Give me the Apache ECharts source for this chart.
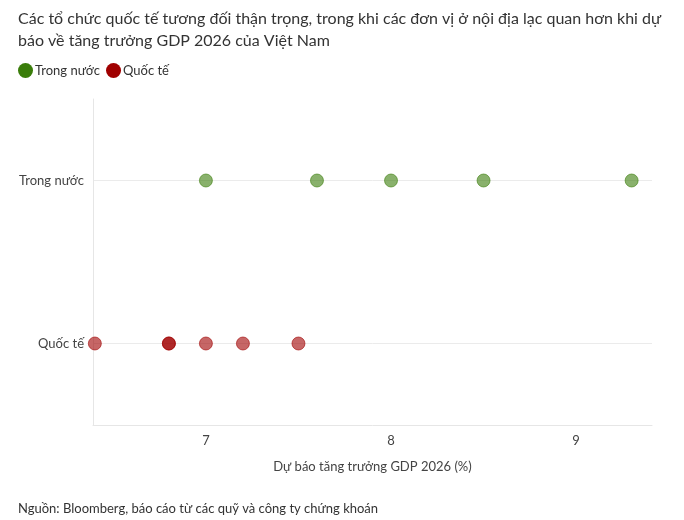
<!DOCTYPE html>
<html>
<head>
<meta charset="utf-8">
<script src="https://cdn.jsdelivr.net/npm/echarts@6/dist/echarts.min.js"></script>
<style>
  html, body { margin: 0; padding: 0; background: #fff; }
  #chart { width: 684px; height: 520px; }
</style>
</head>
<body>
<div id="chart"></div>
<script>
// categories (bottom to top) and forecasts, % GDP growth 2026
var categories = ['Quốc tế', 'Trong nước'];
var trongNuoc = [7.0, 7.6, 8.0, 8.5, 9.3];
var quocTe = [6.4, 6.8, 6.8, 7.0, 7.2, 7.5];
var xTicks = [7, 8, 9];

var FONT = "Lato, 'Liberation Sans', sans-serif";
var GREEN = '#3a7d0a';
var RED = '#a00000';

function toPoints(vals, cat) {
  return vals.map(function (v) { return [v, cat]; });
}

var chart = echarts.init(document.getElementById('chart'));
var option = {
  backgroundColor: '#fff',
  textStyle: { fontFamily: FONT },
  title: {
    text: 'Các tổ chức quốc tế tương đối thận trọng, trong khi các đơn vị ở nội địa lạc quan hơn khi dự\nbáo về tăng trưởng GDP 2026 của Việt Nam',
    left: 13,
    top: 3,
    textStyle: { fontFamily: FONT, fontSize: 16, fontWeight: 'normal', color: '#333', lineHeight: 22 }
  },
  legend: {
    left: 13,
    top: 58,
    icon: 'circle',
    itemWidth: 15,
    itemHeight: 15,
    itemGap: 6,
    textStyle: { fontFamily: FONT, fontSize: 13, color: '#333', padding: [0, 0, 0, -3] },
    data: [
      { name: 'Trong nước', itemStyle: { color: GREEN, opacity: 1, borderWidth: 0 } },
      { name: 'Quốc tế', itemStyle: { color: RED, opacity: 1, borderWidth: 0 } }
    ]
  },
  grid: { left: 93, right: 32, top: 99, bottom: 95 },
  xAxis: {
    type: 'value',
    min: 6.39,
    max: 9.41,
    name: 'Dự báo tăng trưởng GDP 2026 (%)',
    nameLocation: 'middle',
    nameGap: 35,
    nameTextStyle: { fontFamily: FONT, fontSize: 13, color: '#444' },
    axisLine: { show: true, lineStyle: { color: '#e6e6e6' } },
    axisTick: { show: false },
    splitLine: { show: false },
    axisLabel: {
      margin: 9,
      fontSize: 13,
      color: '#444',
      showMinLabel: false,
      showMaxLabel: false,
      formatter: function (v) { return xTicks.indexOf(v) >= 0 ? String(v) : ''; }
    }
  },
  yAxis: {
    type: 'category',
    data: categories,
    boundaryGap: true,
    axisLine: { show: true, lineStyle: { color: '#e6e6e6' } },
    axisTick: { show: false },
    splitLine: { show: false },
    axisLabel: { margin: 9, fontSize: 13, color: '#444' }
  },
  series: [
    {
      name: 'Trong nước',
      type: 'scatter',
      symbolSize: 13,
      data: toPoints(trongNuoc, 'Trong nước'),
      itemStyle: { color: GREEN, opacity: 0.6, borderColor: GREEN, borderWidth: 1 },
      markLine: {
        silent: true,
        symbol: 'none',
        label: { show: false },
        lineStyle: { color: '#ebebeb', type: 'solid', width: 1 },
        data: [{ yAxis: 'Trong nước' }, { yAxis: 'Quốc tế' }],
        z: 0
      },
      z: 3
    },
    {
      name: 'Quốc tế',
      type: 'scatter',
      symbolSize: 13,
      data: toPoints(quocTe, 'Quốc tế'),
      itemStyle: { color: RED, opacity: 0.6, borderColor: RED, borderWidth: 1 },
      z: 3
    }
  ],
  graphic: [
    {
      type: 'text',
      left: 18,
      top: 502,
      style: {
        text: 'Nguồn: Bloomberg, báo cáo từ các quỹ và công ty chứng khoán',
        font: '13px ' + FONT,
        fill: '#333'
      }
    }
  ]
};
chart.setOption(option);
</script>
</body>
</html>
